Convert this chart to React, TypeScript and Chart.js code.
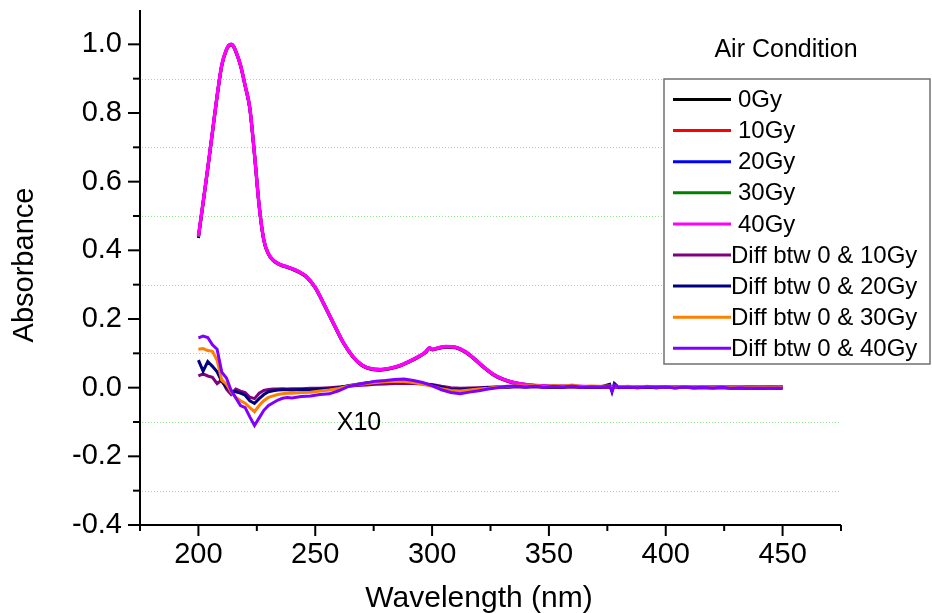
import React, { useEffect, useRef } from 'react';
import { Chart, registerables } from 'chart.js';

Chart.register(...registerables);

// Wavelength grid of the absorbance spectra (nm)
const specWl = [200, 202, 204, 206, 208, 210, 212, 213, 214, 215, 216, 218, 220, 222, 224, 226, 228, 230, 232, 234, 236, 238, 240, 243, 246, 250, 254, 258, 262, 266, 270, 274, 278, 282, 286, 290, 294, 297, 299, 300, 302, 306, 310, 314, 318, 322, 326, 330, 335, 340, 345, 350, 360, 370, 377, 378, 380, 390, 400, 410, 420, 430, 440, 450];

const gy0 = [0.436, 0.536, 0.637, 0.742, 0.848, 0.938, 0.983, 0.995, 0.998, 0.993, 0.978, 0.938, 0.878, 0.812, 0.678, 0.528, 0.428, 0.388, 0.370, 0.360, 0.354, 0.350, 0.345, 0.336, 0.323, 0.290, 0.238, 0.183, 0.130, 0.090, 0.064, 0.053, 0.051, 0.055, 0.062, 0.074, 0.088, 0.101, 0.114, 0.110, 0.113, 0.118, 0.116, 0.104, 0.083, 0.059, 0.038, 0.024, 0.013, 0.007, 0.004, 0.003, 0.003, 0.002, 0.002, 0.003, 0.002, 0.002, 0.001, 0.001, 0.001, 0.001, 0.001, 0.001];
const gy10 = [0.439, 0.538, 0.639, 0.744, 0.849, 0.939, 0.984, 0.996, 0.999, 0.994, 0.979, 0.939, 0.879, 0.813, 0.679, 0.529, 0.429, 0.389, 0.371, 0.361, 0.355, 0.351, 0.346, 0.337, 0.324, 0.291, 0.239, 0.184, 0.131, 0.091, 0.065, 0.054, 0.052, 0.056, 0.063, 0.075, 0.089, 0.102, 0.115, 0.111, 0.114, 0.119, 0.117, 0.105, 0.084, 0.060, 0.039, 0.025, 0.014, 0.008, 0.005, 0.004, 0.003, 0.003, 0.003, 0.003, 0.003, 0.002, 0.002, 0.002, 0.002, 0.001, 0.001, 0.001];
const gy20 = [0.440, 0.539, 0.640, 0.745, 0.850, 0.940, 0.985, 0.997, 1.000, 0.995, 0.980, 0.940, 0.880, 0.814, 0.680, 0.530, 0.430, 0.390, 0.372, 0.362, 0.356, 0.352, 0.347, 0.338, 0.325, 0.292, 0.240, 0.185, 0.132, 0.092, 0.066, 0.055, 0.053, 0.057, 0.064, 0.076, 0.090, 0.103, 0.116, 0.112, 0.115, 0.120, 0.118, 0.106, 0.085, 0.061, 0.040, 0.026, 0.015, 0.009, 0.006, 0.004, 0.004, 0.003, 0.003, 0.003, 0.003, 0.003, 0.002, 0.002, 0.002, 0.002, 0.002, 0.002];
const gy30 = [0.440, 0.540, 0.640, 0.745, 0.850, 0.940, 0.985, 0.997, 1.000, 0.995, 0.980, 0.940, 0.880, 0.815, 0.680, 0.530, 0.430, 0.390, 0.372, 0.362, 0.356, 0.352, 0.347, 0.338, 0.325, 0.292, 0.240, 0.185, 0.132, 0.092, 0.066, 0.055, 0.053, 0.057, 0.064, 0.076, 0.090, 0.103, 0.116, 0.112, 0.115, 0.120, 0.118, 0.106, 0.085, 0.061, 0.040, 0.026, 0.015, 0.009, 0.006, 0.004, 0.004, 0.003, 0.003, 0.003, 0.003, 0.003, 0.002, 0.002, 0.002, 0.002, 0.002, 0.002];
const gy40 = [0.441, 0.540, 0.640, 0.745, 0.850, 0.940, 0.985, 0.997, 1.000, 0.995, 0.980, 0.940, 0.880, 0.815, 0.680, 0.530, 0.430, 0.390, 0.372, 0.362, 0.356, 0.352, 0.347, 0.338, 0.325, 0.292, 0.240, 0.185, 0.132, 0.092, 0.066, 0.055, 0.053, 0.057, 0.064, 0.076, 0.090, 0.103, 0.116, 0.112, 0.115, 0.120, 0.118, 0.106, 0.085, 0.061, 0.040, 0.026, 0.015, 0.009, 0.006, 0.004, 0.004, 0.003, 0.003, 0.003, 0.003, 0.003, 0.002, 0.002, 0.002, 0.002, 0.002, 0.002];

// Wavelength grid of the difference spectra (nm), shown multiplied by 10
const diffWl = [200, 202, 204, 206, 208, 210, 212, 214, 216, 218, 220, 222, 224, 226, 228, 230, 232, 234, 236, 238, 240,
  244, 248, 252, 256, 260, 264, 268, 272, 276, 280, 284, 288, 292, 296, 300, 304, 308, 312, 316, 320, 324, 328, 332, 336, 340, 344, 348, 352, 356, 360, 364, 368, 372,
  376, 377, 378, 380,
  384, 388, 392, 396, 400, 404, 408, 412, 416, 420, 424, 428, 432, 436, 440, 444, 448, 450];

const d10 = [0.034, 0.040, 0.034, 0.030, 0.012, 0.022, -0.004, -0.020, -0.004, -0.010, -0.014, -0.028, -0.032, -0.016, -0.008, -0.005, -0.004, -0.004, -0.003, -0.004, -0.003,
  -0.003, -0.002, -0.002, 0.000, 0.002, 0.004, 0.006, 0.008, 0.010, 0.011, 0.012, 0.013, 0.012, 0.011, 0.009, 0.004, 0.000, -0.002, -0.001, 0.000, 0.001, 0.002, 0.001, 0.003, 0.002, 0.003, 0.001, 0.002, 0.001, 0.003, 0.001, 0.002, 0.001,
  0.002, 0.000, 0.003, 0.001,
  0.001, 0.000, 0.001, 0.000, 0.001, 0.000, 0.001, -0.001, 0.000, -0.001, 0.000, -0.001, -0.001, -0.002, -0.001, -0.002, -0.001, -0.002];
const d20 = [0.080, 0.048, 0.076, 0.062, 0.046, 0.018, 0.002, -0.010, -0.012, -0.016, -0.022, -0.038, -0.046, -0.032, -0.020, -0.012, -0.009, -0.007, -0.006, -0.006, -0.007,
  -0.005, -0.006, -0.004, -0.003, 0.000, 0.006, 0.010, 0.014, 0.017, 0.019, 0.020, 0.019, 0.016, 0.012, 0.007, 0.001, -0.005, -0.007, -0.004, -0.002, 0.000, 0.002, 0.001, 0.004, 0.002, 0.004, 0.001, 0.003, 0.002, 0.004, 0.001, 0.003, 0.002,
  0.010, -0.012, 0.012, 0.000,
  0.002, 0.001, 0.002, 0.000, 0.002, 0.000, 0.001, 0.000, 0.001, 0.000, 0.001, -0.001, 0.000, -0.001, 0.000, -0.001, 0.000, -0.001];
const d30 = [0.112, 0.114, 0.108, 0.106, 0.080, 0.022, 0.010, -0.012, -0.028, -0.038, -0.045, -0.058, -0.070, -0.052, -0.038, -0.028, -0.024, -0.020, -0.018, -0.016, -0.016,
  -0.014, -0.013, -0.010, -0.007, -0.002, 0.004, 0.009, 0.012, 0.015, 0.017, 0.019, 0.018, 0.015, 0.010, 0.004, -0.003, -0.008, -0.010, -0.007, -0.004, -0.002, 0.002, 0.003, 0.006, 0.004, 0.007, 0.003, 0.006, 0.004, 0.008, 0.003, 0.005, 0.004,
  0.005, 0.000, 0.006, 0.003,
  0.004, 0.002, 0.004, 0.002, 0.003, 0.001, 0.003, 0.002, 0.003, 0.001, 0.002, 0.001, 0.002, 0.000, 0.001, 0.000, 0.001, 0.000];
const d40 = [0.145, 0.150, 0.146, 0.125, 0.112, 0.045, 0.028, -0.008, -0.030, -0.052, -0.058, -0.085, -0.110, -0.088, -0.066, -0.052, -0.044, -0.036, -0.031, -0.029, -0.030,
  -0.026, -0.024, -0.020, -0.018, -0.009, 0.003, 0.009, 0.014, 0.019, 0.021, 0.024, 0.025, 0.021, 0.015, 0.006, -0.006, -0.014, -0.018, -0.013, -0.009, -0.004, 0.000, 0.004, 0.005, 0.002, 0.005, 0.001, 0.004, 0.002, 0.005, 0.001, 0.003, 0.002,
  0.004, -0.010, 0.008, 0.001,
  0.002, 0.000, 0.003, 0.001, 0.002, -0.001, 0.002, 0.000, 0.001, -0.001, 0.001, -0.002, 0.000, -0.002, -0.001, -0.002, -0.001, -0.002];

const seriesLabels = ['0Gy', '10Gy', '20Gy', '30Gy', '40Gy', 'Diff btw 0 & 10Gy', 'Diff btw 0 & 20Gy', 'Diff btw 0 & 30Gy', 'Diff btw 0 & 40Gy'];
const seriesColors = ['#000000', '#ff0000', '#0000ff', '#008000', '#ff00ff', '#800080', '#000080', '#ff8000', '#8000ff'];
const seriesValues = [gy0, gy10, gy20, gy30, gy40, d10, d20, d30, d40];
const seriesWl = [specWl, specWl, specWl, specWl, specWl, diffWl, diffWl, diffWl, diffWl];

const xMajorTicks = [200, 250, 300, 350, 400, 450];
const xMinorTicks = [175, 225, 275, 325, 375, 425, 475];
const yMajorTicks = [-0.4, -0.2, 0.0, 0.2, 0.4, 0.6, 0.8, 1.0];
const yMinorTicks = [-0.3, -0.1, 0.1, 0.3, 0.5, 0.7, 0.9];

const legendTitle = 'Air Condition';
const scaleNote = 'X10';
const xTitle = 'Wavelength (nm)';
const yTitle = 'Absorbance';

const FONT = '"Liberation Sans", Arial, sans-serif';

const decorPlugin = {
  id: 'decor',
  beforeDatasetsDraw(chart: any) {
    const { ctx, chartArea, scales } = chart;
    const y = scales.y;
    ctx.save();
    ctx.strokeStyle = '#8fe88f';
    ctx.lineWidth = 1;
    ctx.setLineDash([1, 2]);
    yMinorTicks.forEach((v) => {
      const py = Math.round(y.getPixelForValue(v)) + 0.5;
      ctx.beginPath();
      ctx.moveTo(chartArea.left + 2, py);
      ctx.lineTo(chartArea.right, py);
      ctx.stroke();
    });
    ctx.restore();
  },
  afterDatasetsDraw(chart: any) {
    const { ctx, chartArea, scales } = chart;
    const x = scales.x;
    const y = scales.y;
    const L = chartArea.left;
    const B = chartArea.bottom;
    ctx.save();
    ctx.strokeStyle = '#000';
    ctx.lineWidth = 2;
    ctx.setLineDash([]);
    ctx.beginPath();
    ctx.moveTo(L, chartArea.top);
    ctx.lineTo(L, B);
    ctx.lineTo(chartArea.right, B);
    ctx.stroke();
    yMajorTicks.forEach((v) => {
      const py = y.getPixelForValue(v);
      ctx.beginPath();
      ctx.moveTo(L - 12, py);
      ctx.lineTo(L, py);
      ctx.stroke();
    });
    yMinorTicks.forEach((v) => {
      const py = y.getPixelForValue(v);
      ctx.beginPath();
      ctx.moveTo(L - 7, py);
      ctx.lineTo(L, py);
      ctx.stroke();
    });
    xMajorTicks.forEach((v) => {
      const px = x.getPixelForValue(v);
      ctx.beginPath();
      ctx.moveTo(px, B);
      ctx.lineTo(px, B + 11);
      ctx.stroke();
    });
    xMinorTicks.forEach((v) => {
      const px = x.getPixelForValue(v);
      ctx.beginPath();
      ctx.moveTo(px, B);
      ctx.lineTo(px, B + 6);
      ctx.stroke();
    });

    ctx.fillStyle = '#000';
    ctx.font = `30px ${FONT}`;
    ctx.textAlign = 'center';
    ctx.textBaseline = 'alphabetic';
    ctx.fillText(xTitle, 479, 607);
    ctx.save();
    ctx.translate(33, 265);
    ctx.rotate(-Math.PI / 2);
    ctx.font = `29px ${FONT}`;
    ctx.fillText(yTitle, 0, 0);
    ctx.restore();

    ctx.font = `25px ${FONT}`;
    ctx.textBaseline = 'middle';
    ctx.fillText(scaleNote, 359, 423);

    ctx.font = `25px ${FONT}`;
    ctx.fillText(legendTitle, 786, 50);

    const bx = 664, by = 79, bw = 266, bh = 285;
    ctx.fillStyle = '#fff';
    ctx.fillRect(bx, by, bw, bh);
    ctx.strokeStyle = '#707070';
    ctx.lineWidth = 1.5;
    ctx.strokeRect(bx, by, bw, bh);

    ctx.font = `24px ${FONT}`;
    ctx.textAlign = 'left';
    ctx.textBaseline = 'middle';
    seriesLabels.forEach((label, i) => {
      const cy = 99.5 + i * 31.1;
      ctx.strokeStyle = seriesColors[i];
      ctx.lineWidth = 3;
      ctx.beginPath();
      ctx.moveTo(673, cy);
      ctx.lineTo(731, cy);
      ctx.stroke();
      ctx.fillStyle = '#000';
      const tx = label.startsWith('Diff') ? 731 : 738;
      ctx.fillText(label, tx, cy + 1);
    });
    ctx.restore();
  },
};

const zeroPad = (scale: any) => {
  scale.paddingTop = 0;
  scale.paddingBottom = 0;
  scale.paddingLeft = 0;
  scale.paddingRight = 0;
};

export default function App() {
  const canvasRef = useRef<HTMLCanvasElement | null>(null);

  useEffect(() => {
    const canvas = canvasRef.current;
    if (!canvas) return;
    const datasets = seriesLabels.map((label, i) => ({
      label,
      data: seriesWl[i].map((w, k) => ({ x: w, y: seriesValues[i][k] })),
      borderColor: seriesColors[i],
      backgroundColor: seriesColors[i],
      borderWidth: i === 4 ? 3.5 : 3,
      pointRadius: 0,
      cubicInterpolationMode: i < 5 ? 'monotone' : 'default',
      tension: 0,
      fill: false,
      order: seriesLabels.length - i,
    }));

    const chart = new Chart(canvas, {
      type: 'line',
      data: { datasets },
      options: {
        responsive: false,
        animation: false,
        devicePixelRatio: 1,
        layout: { padding: { top: 10, right: 91, left: 0, bottom: 0 } },
        plugins: { legend: { display: false }, tooltip: { enabled: false } },
        scales: {
          x: {
            type: 'linear',
            min: 175,
            max: 475,
            grid: { display: false, drawTicks: false },
            border: { display: false },
            afterBuildTicks: (scale: any) => {
              scale.ticks = xMajorTicks.map((v) => ({ value: v }));
            },
            afterFit: (scale: any) => {
              scale.height = 88;
              zeroPad(scale);
            },
            ticks: {
              color: '#000',
              padding: 13,
              maxRotation: 0,
              autoSkip: false,
              font: { family: FONT, size: 29 },
              callback: (v: any) => String(v),
            },
          },
          y: {
            type: 'linear',
            min: -0.4,
            max: 1.1,
            grid: { display: false, drawTicks: false },
            border: { display: false },
            afterBuildTicks: (scale: any) => {
              scale.ticks = yMajorTicks.map((v) => ({ value: v }));
            },
            afterFit: (scale: any) => {
              scale.width = 140;
              zeroPad(scale);
            },
            ticks: {
              color: '#000',
              padding: 18,
              autoSkip: false,
              font: { family: FONT, size: 29 },
              callback: (v: any) => Number(v).toFixed(1),
            },
          },
        },
      },
      plugins: [decorPlugin],
    });
    return () => chart.destroy();
  }, []);

  return (
    <div style={{ position: 'absolute', left: 0, top: 0, width: 932, height: 613, background: '#fff' }}>
      <canvas ref={canvasRef} width={932} height={613} style={{ width: 932, height: 613, display: 'block' }} />
    </div>
  );
}
